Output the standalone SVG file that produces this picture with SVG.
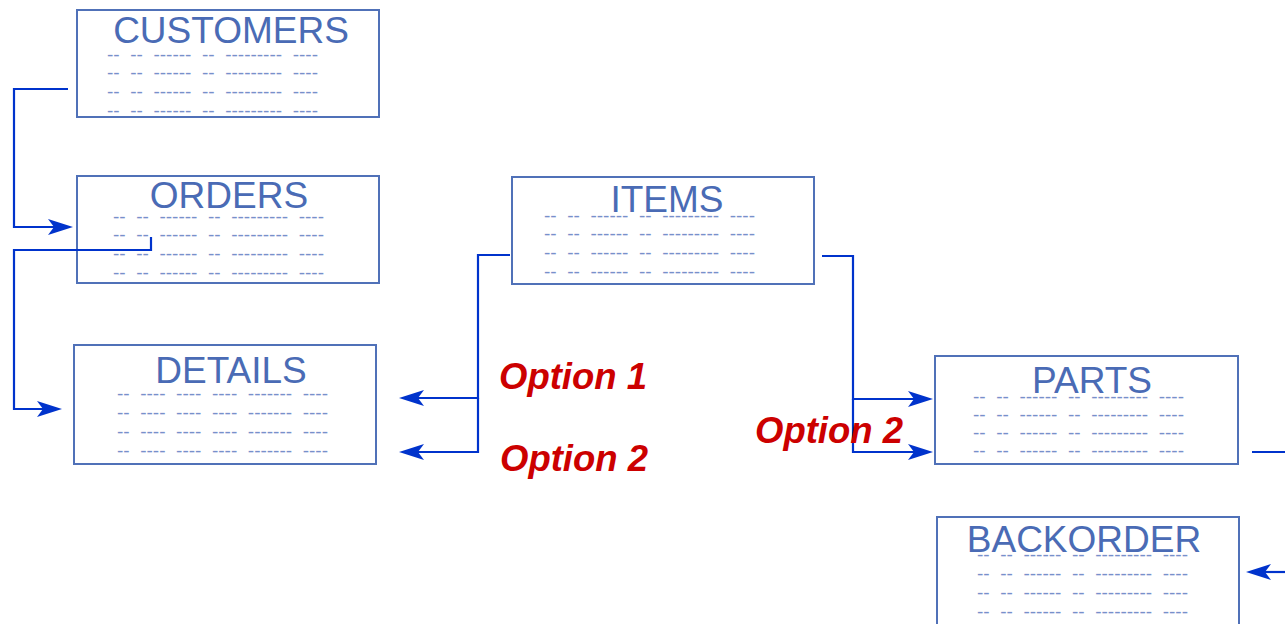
<svg xmlns="http://www.w3.org/2000/svg" width="1285" height="624" viewBox="0 0 1285 624">
  <style>
    .box { fill: #ffffff; stroke: #5071b8; stroke-width: 2; }
    .title { font-family: "Liberation Sans", Arial, sans-serif; font-size: 37px; fill: #4a6bb5; text-anchor: middle; }
    .cols { font-family: "Liberation Sans", Arial, sans-serif; font-size: 19px; fill: #7790cb; white-space: pre; }
    .link { fill: none; stroke: #0033cc; stroke-width: 2.2; }
    .opt { font-family: "Liberation Sans", Arial, sans-serif; font-size: 36.5px; font-weight: bold; font-style: italic; fill: #cc0000; }
  </style>
  <defs>
    <marker id="arrow" markerUnits="userSpaceOnUse" markerWidth="26" markerHeight="18" refX="6" refY="8.5" orient="auto" overflow="visible">
      <path d="M0,0.5 L25,8.5 L0,16.5 L6,8.5 Z" fill="#0033cc"/>
    </marker>
  </defs>
  <rect width="1285" height="624" fill="#ffffff"/>

  <g id="customers">
    <rect class="box" x="77" y="10" width="302" height="107"/>
    <text class="title" x="231" y="43">CUSTOMERS</text>
    <text class="cols" x="107" y="61">--  --  ------  --  ---------  ----</text>
    <text class="cols" x="107" y="79">--  --  ------  --  ---------  ----</text>
    <text class="cols" x="107" y="98">--  --  ------  --  ---------  ----</text>
    <text class="cols" x="107" y="117">--  --  ------  --  ---------  ----</text>
  </g>

  <g id="orders">
    <rect class="box" x="77" y="176" width="302" height="107"/>
    <text class="title" x="229" y="208">ORDERS</text>
    <text class="cols" x="113" y="223">--  --  ------  --  ---------  ----</text>
    <text class="cols" x="113" y="241">--  --  ------  --  ---------  ----</text>
    <text class="cols" x="113" y="260">--  --  ------  --  ---------  ----</text>
    <text class="cols" x="113" y="279">--  --  ------  --  ---------  ----</text>
  </g>

  <g id="details">
    <rect class="box" x="74" y="345" width="302" height="119"/>
    <text class="title" x="231" y="383">DETAILS</text>
    <text class="cols" x="117" y="400">--  ----  ----  ----  -------  ----</text>
    <text class="cols" x="117" y="419">--  ----  ----  ----  -------  ----</text>
    <text class="cols" x="117" y="438">--  ----  ----  ----  -------  ----</text>
    <text class="cols" x="117" y="457">--  ----  ----  ----  -------  ----</text>
  </g>

  <g id="items">
    <rect class="box" x="512" y="177" width="302" height="107"/>
    <text class="title" x="667" y="212">ITEMS</text>
    <text class="cols" x="544" y="222">--  --  ------  --  ---------  ----</text>
    <text class="cols" x="544" y="240">--  --  ------  --  ---------  ----</text>
    <text class="cols" x="544" y="259">--  --  ------  --  ---------  ----</text>
    <text class="cols" x="544" y="278">--  --  ------  --  ---------  ----</text>
  </g>

  <g id="parts">
    <rect class="box" x="935" y="356" width="303" height="108"/>
    <text class="title" x="1092" y="393">PARTS</text>
    <text class="cols" x="973" y="403">--  --  ------  --  ---------  ----</text>
    <text class="cols" x="973" y="421">--  --  ------  --  ---------  ----</text>
    <text class="cols" x="973" y="439">--  --  ------  --  ---------  ----</text>
    <text class="cols" x="973" y="457">--  --  ------  --  ---------  ----</text>
  </g>

  <g id="backorder">
    <rect class="box" x="937" y="517" width="302" height="120"/>
    <text class="title" x="1084" y="552">BACKORDER</text>
    <text class="cols" x="977" y="561">--  --  ------  --  ---------  ----</text>
    <text class="cols" x="977" y="580">--  --  ------  --  ---------  ----</text>
    <text class="cols" x="977" y="599">--  --  ------  --  ---------  ----</text>
    <text class="cols" x="977" y="618">--  --  ------  --  ---------  ----</text>
  </g>

  <!-- connectors, drawn over the tables -->
  <g id="connectors">
    <path class="link" d="M68,89 H14 V227 H54" marker-end="url(#arrow)"/>
    <path class="link" d="M151,237 V250 H14 V409 H43" marker-end="url(#arrow)"/>
    <path class="link" d="M510,255 H478 V398 H418" marker-end="url(#arrow)"/>
    <path class="link" d="M478,398 V452 H418" marker-end="url(#arrow)"/>
    <path class="link" d="M822,256 H853 V399 H914" marker-end="url(#arrow)"/>
    <path class="link" d="M853,399 V452 H914" marker-end="url(#arrow)"/>
    <path class="link" d="M1252,452 H1285"/>
    <path class="link" d="M1290,572 H1265" marker-end="url(#arrow)"/>
  </g>

  <g id="labels">
    <text class="opt" x="499" y="389">Option 1</text>
    <text class="opt" x="500" y="471">Option 2</text>
    <text class="opt" x="755" y="443">Option 2</text>
  </g>
</svg>
